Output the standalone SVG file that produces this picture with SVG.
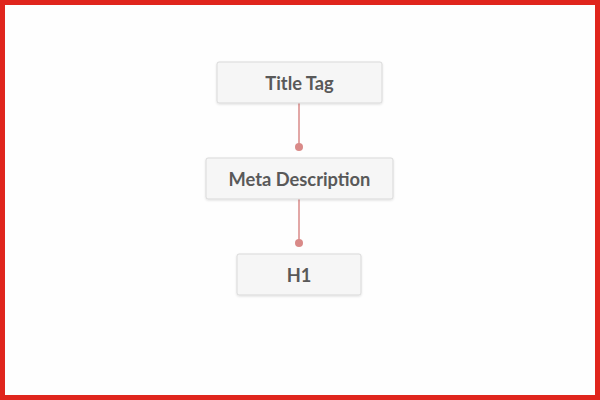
<svg xmlns="http://www.w3.org/2000/svg" width="600" height="400" viewBox="0 0 600 400">
<style>
.box{fill:#f6f6f6;stroke:#d9d9d9;stroke-width:1}
.lbl{font-family:Lato,"Open Sans",sans-serif;font-weight:bold;font-size:18.3px;fill:#595959;text-anchor:middle;dominant-baseline:central}
.edge{stroke:#d98a88;stroke-width:1.5;fill:none}
.dot{fill:#d98a88}
</style>
<defs>
<filter id="sh" x="-10%" y="-20%" width="120%" height="150%">
<feDropShadow dx="0" dy="1" stdDeviation="1" flood-color="#000" flood-opacity="0.12"/>
</filter>
</defs>
<rect x="0" y="0" width="600" height="400" fill="#fefefe"/>
<rect x="2.5" y="2.5" width="595" height="395" fill="none" stroke="#e0251d" stroke-width="5"/>
<g id="connectors">
<line class="edge" x1="299" y1="103" x2="299" y2="147"/>
<circle class="dot" cx="299" cy="147" r="4"/>
<line class="edge" x1="299" y1="199" x2="299" y2="243"/>
<circle class="dot" cx="299" cy="243" r="4"/>
</g>
<g id="title-tag">
<rect class="box" x="217" y="62" width="165" height="41" rx="2" filter="url(#sh)"/>
<text class="lbl" x="299.5" y="83">Title Tag</text>
</g>
<g id="meta-description">
<rect class="box" x="206" y="158" width="187" height="41" rx="2" filter="url(#sh)"/>
<text class="lbl" x="299.5" y="179">Meta Description</text>
</g>
<g id="h1">
<rect class="box" x="237" y="254" width="124" height="41" rx="2" filter="url(#sh)"/>
<text class="lbl" x="299" y="275">H1</text>
</g>
</svg>
